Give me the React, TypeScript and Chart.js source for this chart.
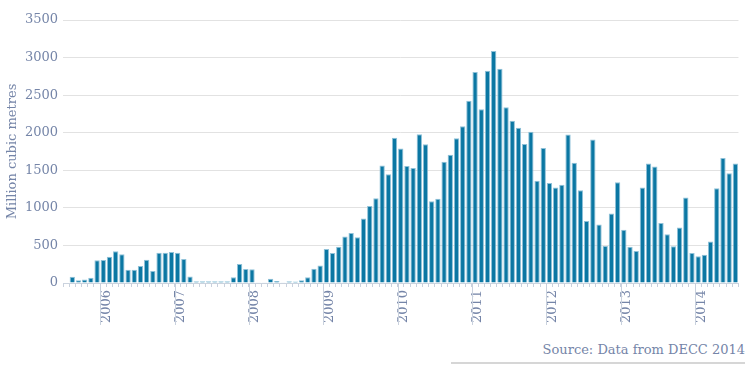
import React, { useEffect, useRef } from "react";
import { Chart, registerables } from "chart.js";

Chart.register(...registerables);

// Monthly values (million cubic metres)
const values2005 = [0, 82, 36, 45, 71, 302]; // Jul–Dec
const values2006 = [305, 349, 422, 382, 176, 176, 227, 309, 160, 402, 402, 413];
const values2007 = [402, 320, 88, 22, 22, 22, 22, 22, 22, 76, 253, 185];
const values2008 = [183, 4, 4, 55, 27, 4, 22, 20, 35, 78, 190, 232];
const values2009 = [452, 400, 481, 620, 665, 608, 860, 1026, 1128, 1565, 1448, 1932];
const values2010 = [1790, 1556, 1532, 1978, 1847, 1088, 1121, 1614, 1708, 1925, 2087, 2425];
const values2011 = [2808, 2311, 2826, 3086, 2852, 2340, 2160, 2065, 1850, 2012, 1360, 1798];
const values2012 = [1332, 1270, 1307, 1975, 1599, 1234, 826, 1909, 777, 493, 924, 1341];
const values2013 = [710, 482, 426, 1270, 1590, 1550, 799, 648, 488, 737, 1137, 400];
const values2014 = [355, 377, 551, 1261, 1665, 1461, 1590]; // Jan–Jul

const monthNames = ["Jan", "Feb", "Mar", "Apr", "May", "Jun", "Jul", "Aug", "Sep", "Oct", "Nov", "Dec"];
const yearBlocks: { year: number; startMonth: number; values: number[] }[] = [
  { year: 2005, startMonth: 6, values: values2005 },
  { year: 2006, startMonth: 0, values: values2006 },
  { year: 2007, startMonth: 0, values: values2007 },
  { year: 2008, startMonth: 0, values: values2008 },
  { year: 2009, startMonth: 0, values: values2009 },
  { year: 2010, startMonth: 0, values: values2010 },
  { year: 2011, startMonth: 0, values: values2011 },
  { year: 2012, startMonth: 0, values: values2012 },
  { year: 2013, startMonth: 0, values: values2013 },
  { year: 2014, startMonth: 0, values: values2014 },
];

const categories: string[] = [];
const seriesValues: number[] = [];
yearBlocks.forEach((b) => {
  b.values.forEach((v, i) => {
    categories.push(monthNames[b.startMonth + i] + " " + b.year);
    seriesValues.push(v);
  });
});

const yTickMin = 0;
const yTickMax = 3500;
const yTickStep = 500;

const TEXT_COLOR = "#7585a8";
const FONT = "'DejaVu Serif', serif";

const yearLines = {
  id: "yearLines",
  afterDraw(chart: any) {
    const xs = chart.scales.x;
    const ctx = chart.ctx;
    const half = (xs.getPixelForValue(1) - xs.getPixelForValue(0)) / 2;
    const bottom = chart.chartArea.bottom;
    ctx.save();
    ctx.strokeStyle = "#c9d1dd";
    ctx.lineWidth = 1;
    categories.forEach((c, i) => {
      if (c.startsWith("Jan")) {
        const x = Math.round(xs.getPixelForValue(i) - half) + 0.5;
        ctx.beginPath();
        ctx.moveTo(x, bottom);
        ctx.lineTo(x, bottom + 42);
        ctx.stroke();
      }
    });
    ctx.restore();
  },
};

export default function App() {
  const ref = useRef<HTMLCanvasElement | null>(null);
  useEffect(() => {
    if (!ref.current) return;
    const chart = new Chart(ref.current, {
      type: "bar",
      data: {
        labels: categories,
        datasets: [
          {
            data: seriesValues,
            backgroundColor: "#0b77a3",
            borderColor: "#8fc1d8",
            borderWidth: 1,
            barPercentage: 0.86,
            categoryPercentage: 1,
          },
        ],
      },
      plugins: [yearLines],
      options: {
        animation: false,
        responsive: true,
        maintainAspectRatio: false,
        layout: { padding: { left: 0, right: 9, top: 20, bottom: 0 } },
        plugins: { legend: { display: false }, tooltip: { enabled: false } },
        scales: {
          x: {
            grid: {
              offset: true,
              drawOnChartArea: false,
              drawTicks: true,
              tickLength: 4,
              color: "#c9d1dd",
            },
            border: { color: "#cbd3de" },
            ticks: {
              autoSkip: false,
              maxRotation: 90,
              minRotation: 90,
              padding: 3,
              labelOffset: 3,
              color: TEXT_COLOR,
              font: { family: FONT, size: 13 },
              callback: function (this: any, value: any) {
                const lab = categories[value as number];
                return lab.startsWith("Jan") ? lab.slice(4) : "";
              },
            },
            afterFit: (s: any) => {
              s.height = 57;
            },
          },
          y: {
            min: yTickMin,
            max: yTickMax,
            grid: { color: "#e2e2e2", drawTicks: false },
            border: { display: false },
            ticks: {
              stepSize: yTickStep,
              padding: 5,
              color: TEXT_COLOR,
              font: { family: FONT, size: 13 },
              callback: (v: any) => String(v),
            },
            title: {
              display: true,
              text: "Million cubic metres",
              color: TEXT_COLOR,
              font: { family: FONT, size: 13 },
              padding: { top: 5, bottom: 4 },
            },
            afterFit: (s: any) => {
              s.width = 63;
            },
          },
        },
      },
    });
    return () => chart.destroy();
  }, []);

  return (
    <div style={{ position: "fixed", left: 0, top: 0, width: 754, height: 373, background: "#fff" }}>
      <div style={{ position: "absolute", left: 0, top: 0, width: 754, height: 340 }}>
        <canvas ref={ref} />
      </div>
      <div
        style={{
          position: "absolute",
          right: 9,
          top: 342,
          fontFamily: FONT,
          fontSize: 13,
          color: TEXT_COLOR,
          whiteSpace: "nowrap",
        }}
      >
        Source: Data from DECC 2014
      </div>
      <div style={{ position: "absolute", left: 451, top: 362, width: 294, height: 2, background: "#d6d6d6" }} />
    </div>
  );
}
